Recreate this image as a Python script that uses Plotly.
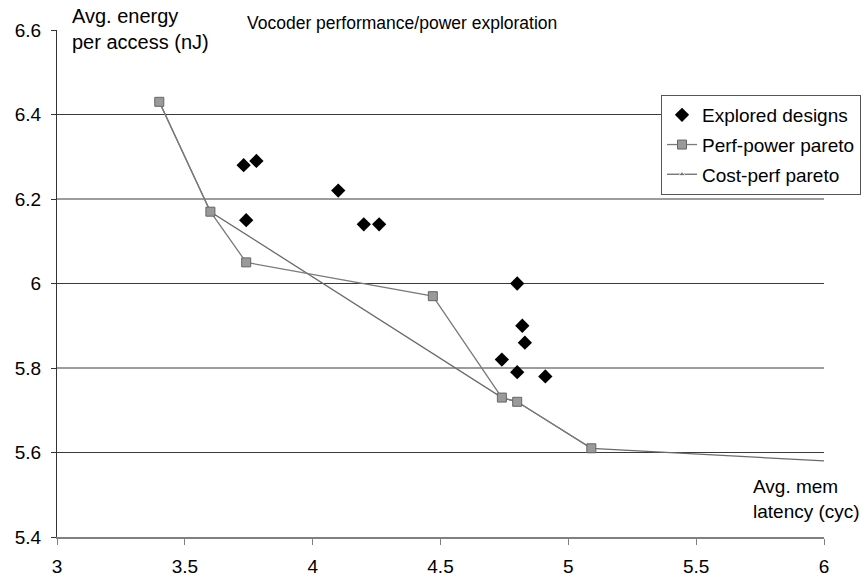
import plotly.graph_objects as go

# ---- data ----
explored_x = [3.73, 3.78, 3.74, 4.10, 4.20, 4.26, 4.80, 4.82, 4.83, 4.74, 4.80, 4.91]
explored_y = [6.28, 6.29, 6.15, 6.22, 6.14, 6.14, 6.00, 5.90, 5.86, 5.82, 5.79, 5.78]

perf_power_x = [3.40, 3.60, 3.74, 4.47, 4.74, 4.80, 5.09]
perf_power_y = [6.43, 6.17, 6.05, 5.97, 5.73, 5.72, 5.61]

cost_perf_x = [3.40, 3.60, 4.74, 4.80, 5.09, 6.00]
cost_perf_y = [6.43, 6.17, 5.73, 5.72, 5.61, 5.58]

x_ticks = [3, 3.5, 4, 4.5, 5, 5.5, 6]
x_tick_labels = ["3", "3.5", "4", "4.5", "5", "5.5", "6"]
y_ticks = [5.4, 5.6, 5.8, 6.0, 6.2, 6.4, 6.6]
y_tick_labels = ["5.4", "5.6", "5.8", "6", "6.2", "6.4", "6.6"]
grid_vals = [5.6, 5.8, 6.0, 6.2, 6.4]

FONT = "Liberation Sans, Arial, sans-serif"
FS = 19

fig = go.Figure()

cp_sizes = [7] * (len(cost_perf_x) - 1) + [0]
fig.add_trace(go.Scatter(
    x=cost_perf_x, y=cost_perf_y, mode="lines+markers", name="Cost-perf pareto",
    line=dict(color="#6a6a6a", width=1.3),
    marker=dict(symbol="triangle-up", size=cp_sizes, color="#6a6a6a"),
    legendgroup="c", legendrank=3,
))
fig.add_trace(go.Scatter(
    x=perf_power_x, y=perf_power_y, mode="lines+markers", name="Perf-power pareto",
    line=dict(color="#7a7a7a", width=1.3),
    marker=dict(symbol="square", size=9, color="#9a9a9a", line=dict(color="#666", width=1)),
    legendgroup="b", legendrank=2,
))
fig.add_trace(go.Scatter(
    x=explored_x, y=explored_y, mode="markers", name="Explored designs",
    marker=dict(symbol="diamond", size=11, color="black"),
    legendgroup="a", legendrank=1,
))

shapes = [dict(type="line", xref="paper", x0=0, x1=1, yref="y", y0=g, y1=g,
               line=dict(color="#3a3a3a", width=1), layer="below") for g in grid_vals]

fig.update_layout(
    width=865, height=579,
    margin=dict(l=57, r=41, t=30, b=42, autoexpand=False),
    paper_bgcolor="white", plot_bgcolor="white",
    font=dict(family=FONT, size=FS, color="black"),
    shapes=shapes,
    showlegend=True,
    legend=dict(
        x=(861 - 57) / 767, xanchor="right", y=(537 - 195) / 507, yanchor="bottom",
        bordercolor="#555", borderwidth=1, bgcolor="white",
        font=dict(family=FONT, size=FS), tracegroupgap=2,
        traceorder="grouped",
    ),
    xaxis=dict(
        range=[3, 6], tickvals=x_ticks, ticktext=x_tick_labels,
        showgrid=False, zeroline=False, automargin=False,
        showline=True, linecolor="#808080", linewidth=2,
        ticks="outside", ticklen=6, tickcolor="#808080", tickwidth=1,
        ticklabelstandoff=5,
    ),
    yaxis=dict(
        range=[5.4, 6.6], tickvals=y_ticks, ticktext=y_tick_labels,
        showgrid=False, zeroline=False, automargin=False,
        showline=True, linecolor="#333", linewidth=1,
        ticks="outside", ticklen=5, tickcolor="#333",
        ticklabelstandoff=6,
    ),
    annotations=[
        dict(text="Vocoder performance/power exploration", xref="paper", yref="paper",
             x=(245 - 57) / 767, y=1.0, xanchor="left", yanchor="bottom", yshift=-5,
             showarrow=False, font=dict(size=17.5)),
        dict(text="Avg. energy<br>per access (nJ)", xref="paper", yref="paper",
             x=(70 - 57) / 767, y=1.0, xanchor="left", yanchor="middle", yshift=1, align="left",
             showarrow=False, font=dict(size=20)),
        dict(text="Avg. mem<br>latency (cyc)", xref="paper", yref="paper",
             x=1.0, y=0.0, xanchor="left", yanchor="bottom", xshift=-73, yshift=13, align="left",
             showarrow=False, font=dict(size=FS)),
    ],
)

fig.write_html("out.html")
